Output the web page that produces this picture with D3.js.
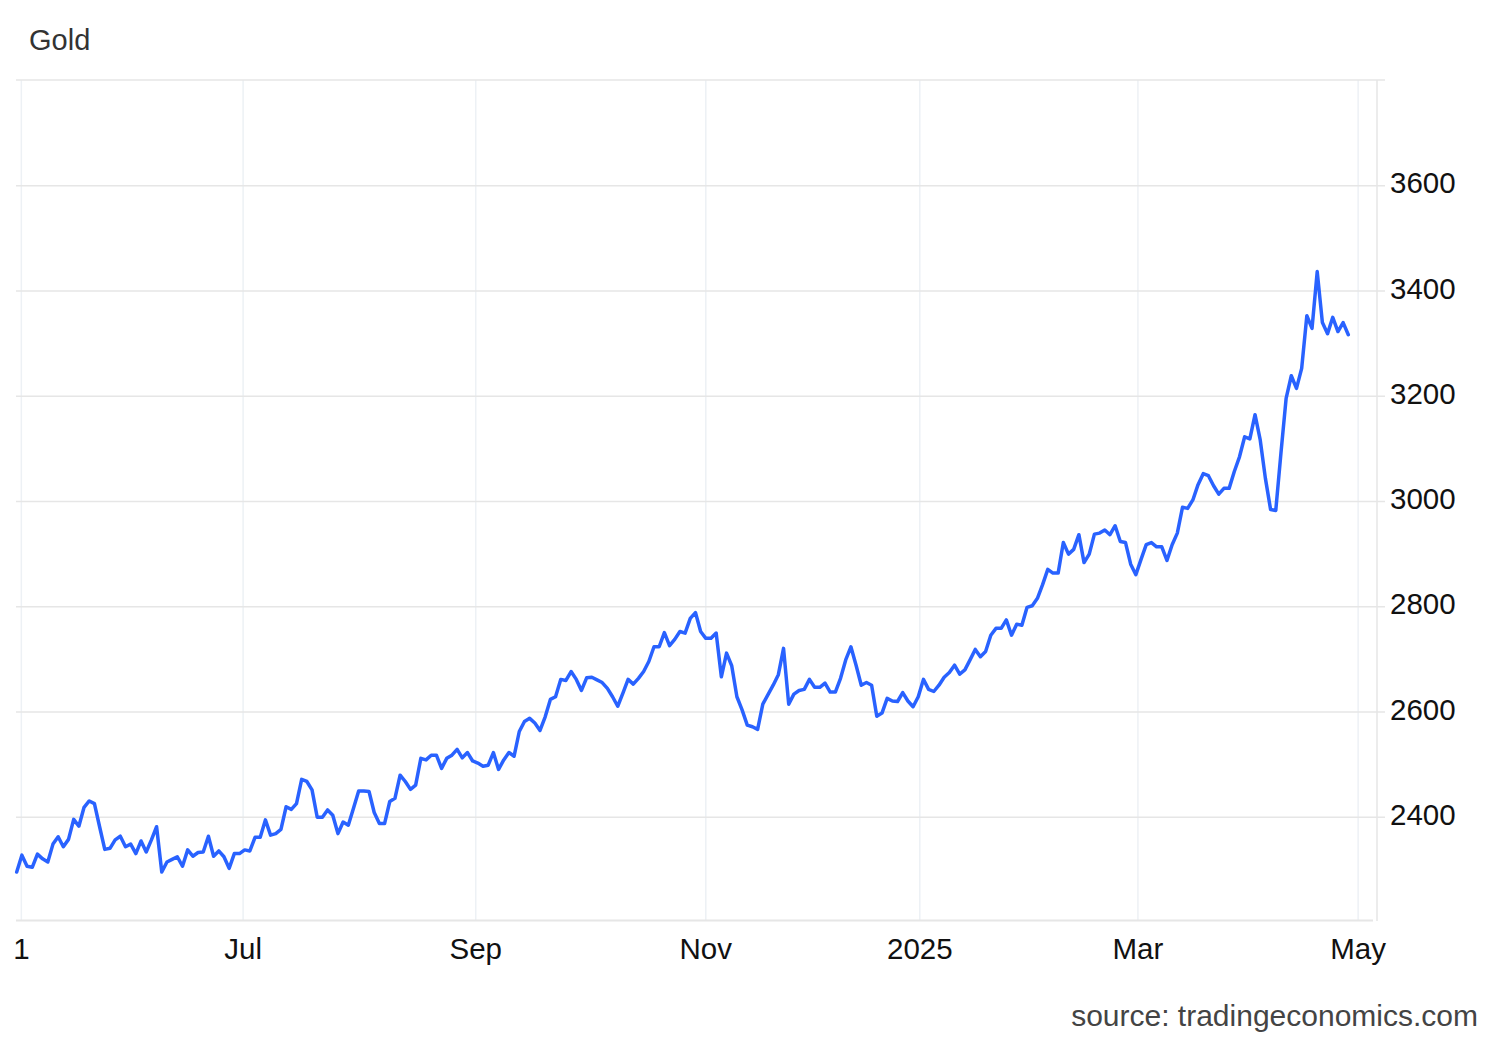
<!DOCTYPE html>
<html>
<head>
<meta charset="utf-8">
<script src="https://cdn.jsdelivr.net/npm/d3@7"></script>
<style>
  html, body { margin: 0; padding: 0; background: #ffffff; }
  svg { display: block; font-family: "Liberation Sans", Arial, sans-serif; }
</style>
</head>
<body>
<svg id="chart" width="1500" height="1040"></svg>
<script>
// Daily gold price (USD/oz), trading days from end of April 2024 to end of April 2025
const values = [
  2295, 2327, 2306, 2304, 2329, 2320, 2314, 2348, 2362, 2343,
  2357, 2395, 2382, 2418, 2430, 2425, 2381, 2338, 2340, 2356,
  2363, 2343, 2348, 2330, 2354, 2333, 2356, 2381, 2295, 2314,
  2319, 2324, 2306, 2337, 2325, 2332, 2333, 2363, 2325, 2335,
  2324, 2302, 2330, 2330, 2337, 2335, 2361, 2361, 2394, 2365,
  2368, 2376, 2419, 2414, 2425, 2471, 2467, 2451, 2399, 2399,
  2413, 2403, 2368, 2390, 2384, 2416, 2449, 2449, 2448, 2408,
  2387, 2387, 2429, 2435, 2479, 2467, 2452, 2460, 2511, 2508,
  2517, 2517, 2492, 2511, 2517, 2528, 2512, 2522, 2506, 2502,
  2496, 2498, 2522, 2490, 2508, 2522, 2515, 2562, 2581, 2587,
  2578, 2564, 2590, 2623, 2628, 2661, 2659, 2676, 2661, 2640,
  2664, 2665, 2660, 2655, 2644, 2628, 2610, 2635, 2661, 2652,
  2663, 2676, 2695, 2723, 2723, 2750, 2725, 2737, 2752, 2749,
  2777, 2788, 2752, 2739, 2739, 2749, 2666, 2711, 2687, 2628,
  2603, 2574, 2571, 2566, 2614, 2632, 2650, 2670, 2720, 2614,
  2633, 2640, 2642, 2661, 2646, 2646, 2654, 2637, 2637, 2663,
  2698, 2723, 2688, 2650, 2655, 2650, 2591, 2597, 2625, 2620,
  2619, 2636, 2620, 2609, 2628, 2661, 2642, 2638, 2650, 2665,
  2674, 2688, 2671, 2679, 2698, 2718, 2704, 2714, 2745, 2758,
  2758, 2774, 2745, 2766, 2764, 2798, 2801, 2815, 2841, 2870,
  2863, 2863, 2921, 2899, 2908, 2936, 2883, 2899, 2937, 2939,
  2945, 2936, 2953, 2923, 2921, 2880, 2860, 2889, 2917, 2921,
  2913, 2913, 2887, 2917, 2939, 2988, 2986, 3002, 3031, 3052,
  3048, 3029, 3013, 3024, 3024, 3056, 3084, 3122, 3118, 3164,
  3116, 3043, 2984, 2982, 3091, 3195, 3238, 3214, 3252, 3352,
  3328, 3436, 3339, 3318, 3349, 3322, 3339, 3316
];

// x-axis tick labels and their positions (in trading-day index units)
const xTickLabels = ["1", "Jul", "Sep", "Nov", "2025", "Mar", "May"];
const xTickIndex  = [0.8, 43.6, 88.5, 132.9, 174.2, 216.3, 258.8];

// y-axis ticks
const yTickValues = [2400, 2600, 2800, 3000, 3200, 3400, 3600];
const yDomain = [2200, 3800];

const title = "Gold";
const sourceText = "source: tradingeconomics.com";

// ---------- drawing ----------
const svg = d3.select("#chart");

const plot = { left: 16, right: 1377, top: 80, bottom: 921 };

const x = d3.scaleLinear()
  .domain([0, values.length - 1])
  .range([16.7, 1348.3]);

const y = d3.scaleLinear()
  .domain(yDomain)
  .range([922, 80]);

// title
svg.append("text")
  .attr("x", 29)
  .attr("y", 50)
  .attr("font-size", 29)
  .attr("fill", "#333333")
  .text(title);

// vertical gridlines (x ticks)
const xAxis = d3.axisBottom(x)
  .tickValues(xTickIndex)
  .tickFormat((d, i) => xTickLabels[i])
  .tickSize(-(plot.bottom - plot.top))
  .tickPadding(20);

const gx = svg.append("g")
  .attr("transform", `translate(0,${plot.bottom})`)
  .call(xAxis);
gx.select(".domain").remove();
gx.selectAll(".tick line")
  .attr("stroke", "#edf1f5")
  .attr("stroke-width", 1.5);
gx.selectAll(".tick text")
  .attr("font-size", 29.5)
  .attr("fill", "#111111")
  .attr("font-family", "Liberation Sans, Arial, sans-serif")
  .attr("dy", "0.6em");

// horizontal gridlines (y ticks) on the right axis
const yAxis = d3.axisRight(y)
  .tickValues(yTickValues)
  .tickFormat(d3.format("d"))
  .tickSize(-(plot.right + 8 - plot.left))
  .tickPadding(0);

const gy = svg.append("g")
  .attr("transform", `translate(${plot.right + 8},0)`)
  .call(yAxis);
gy.select(".domain").remove();
gy.selectAll(".tick line")
  .attr("stroke", "#e6e6e6")
  .attr("stroke-width", 1.5);
gy.selectAll(".tick text")
  .attr("x", 5)
  .attr("dy", "0.26em")
  .attr("font-size", 29.5)
  .attr("fill", "#111111")
  .attr("font-family", "Liberation Sans, Arial, sans-serif")
  .attr("text-anchor", "start");

// frame: top border, bottom axis line, right axis line
svg.append("line")
  .attr("x1", plot.left).attr("x2", plot.right + 8)
  .attr("y1", y(yDomain[1])).attr("y2", y(yDomain[1]))
  .attr("stroke", "#e6e6e6").attr("stroke-width", 1.5);
svg.append("line")
  .attr("x1", plot.left).attr("x2", plot.right - 4)
  .attr("y1", plot.bottom - 0.5).attr("y2", plot.bottom - 0.5)
  .attr("stroke", "#e6e6e6").attr("stroke-width", 2);
svg.append("line")
  .attr("x1", plot.right).attr("x2", plot.right)
  .attr("y1", y(yDomain[1])).attr("y2", plot.bottom)
  .attr("stroke", "#e6e6e6").attr("stroke-width", 1.5);

// price line
const line = d3.line()
  .x((d, i) => x(i))
  .y(d => y(d));

svg.append("path")
  .datum(values)
  .attr("fill", "none")
  .attr("stroke", "#2962ff")
  .attr("stroke-width", 3.5)
  .attr("stroke-linejoin", "round")
  .attr("stroke-linecap", "round")
  .attr("d", line);

// source note
svg.append("text")
  .attr("x", 1478)
  .attr("y", 1026)
  .attr("text-anchor", "end")
  .attr("font-size", 30)
  .attr("fill", "#444444")
  .text(sourceText);
</script>
</body>
</html>
